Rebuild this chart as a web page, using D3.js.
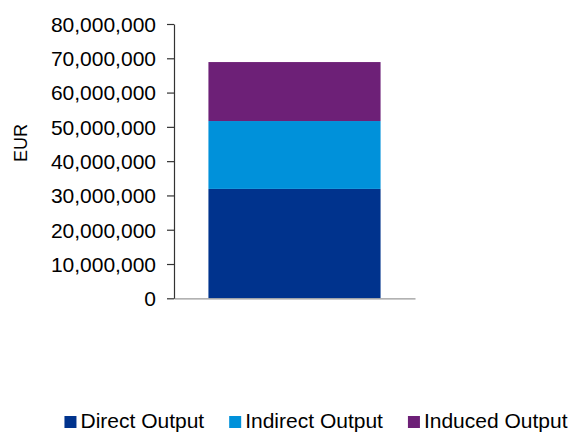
<!DOCTYPE html>
<html>
<head>
<meta charset="utf-8">
<script src="https://cdn.jsdelivr.net/npm/d3@7"></script>
<style>
  body { margin: 0; background: #fff; }
  svg { display: block; font-family: "Liberation Sans", Arial, sans-serif; }
</style>
</head>
<body>
<svg id="chart" width="571" height="432"></svg>
<script>
const categories = ["Total"];
const seriesNames = ["Direct Output", "Indirect Output", "Induced Output"];
const directOutput = [31900000];
const indirectOutput = [19800000];
const inducedOutput = [17200000];
const yTicks = [0, 10000000, 20000000, 30000000, 40000000, 50000000, 60000000, 70000000, 80000000];
const colors = ["#00338D", "#0091DA", "#6D2077"];

const svg = d3.select("#chart");
const x0 = 174, x1 = 415, yTop = 24, yBottom = 298.3;

const rows = categories.map((c, i) => ({
  category: c,
  "Direct Output": directOutput[i],
  "Indirect Output": indirectOutput[i],
  "Induced Output": inducedOutput[i]
}));
const stacked = d3.stack().keys(seriesNames)(rows);

const x = d3.scaleBand().domain(categories).range([x0, x1]).paddingInner(0).paddingOuter(0.2);
const y = d3.scaleLinear().domain([0, 80000000]).range([yBottom, yTop]);

// bars
svg.append("g").selectAll("g").data(stacked).join("g")
  .attr("fill", (d, i) => colors[i])
  .selectAll("rect").data(d => d).join("rect")
  .attr("x", d => x(d.data.category))
  .attr("width", x.bandwidth())
  .attr("y", d => y(d[1]))
  .attr("height", d => y(d[0]) - y(d[1]));

// x axis (line only)
const xAxis = svg.append("g").attr("transform", `translate(0,${yBottom})`)
  .call(d3.axisBottom(x).tickSize(0).tickFormat(""));
xAxis.select(".domain").attr("stroke", "#999").attr("stroke-width", 1.3);

// y axis
const fmt = d3.format(",");
const yAxis = svg.append("g").attr("transform", `translate(${x0},0)`)
  .call(d3.axisLeft(y).tickValues(yTicks).tickFormat(fmt).tickSize(7).tickPadding(11).tickSizeOuter(0));
yAxis.select(".domain").attr("stroke", "#333").attr("stroke-width", 1.2);
yAxis.selectAll(".tick line").attr("stroke", "#333").attr("stroke-width", 1.2);
yAxis.selectAll(".tick text")
  .attr("font-size", 21)
  .attr("font-family", "Liberation Sans, Arial, sans-serif")
  .attr("fill", "#000")
  .attr("dy", "0.35em");

// y title
svg.append("text")
  .attr("transform", "translate(27,143) rotate(-90)")
  .attr("text-anchor", "middle")
  .attr("font-size", 18)
  .attr("fill", "#000")
  .text("EUR");

// legend
const legend = svg.append("g");
const fs = 21, sq = 12, gapText = 4, gapItem = 25;
let cx = 0;
const items = seriesNames.map((name, i) => {
  const g = legend.append("g");
  g.append("rect").attr("width", sq).attr("height", sq).attr("y", -sq).attr("fill", colors[i]);
  const t = g.append("text").attr("x", sq + gapText).attr("font-size", fs).attr("fill", "#000").text(name);
  const w = sq + gapText + t.node().getComputedTextLength();
  return { g, w };
});
const total = items.reduce((s, it) => s + it.w, 0) + gapItem * (items.length - 1);
cx = 316 - total / 2;
items.forEach(it => {
  it.g.attr("transform", `translate(${cx},428)`);
  cx += it.w + gapItem;
});
</script>
</body>
</html>
